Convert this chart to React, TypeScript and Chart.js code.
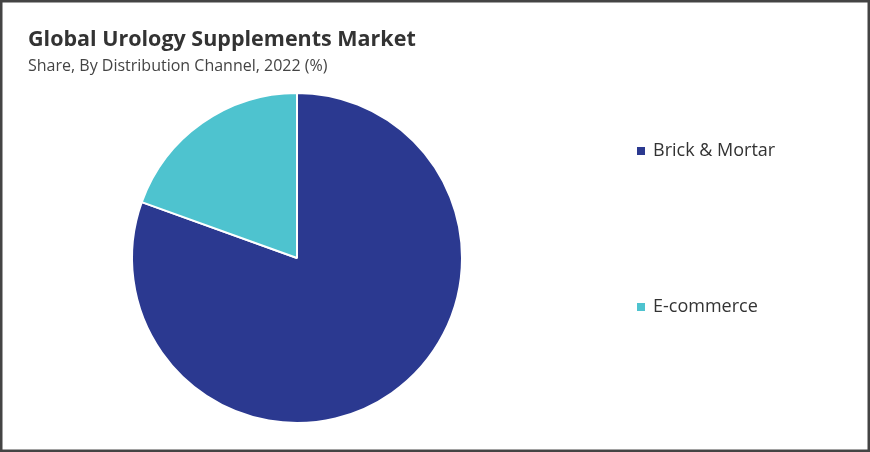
import { useEffect, useRef } from "react";
import { Chart, ChartConfiguration, Plugin, registerables } from "chart.js";

Chart.register(...registerables);

const channels = ["Brick & Mortar", "E-commerce"];
const shares = [80.5, 19.5];
const sliceColors = ["#2b3990", "#4ec3cf"];

const FONT = "'Open Sans', 'DejaVu Sans', sans-serif";

// white page, dark frame and a hand placed legend on the right
const framePlugin: Plugin<"pie"> = {
  id: "frame",
  beforeDraw(chart) {
    const { ctx, width, height } = chart;
    ctx.save();
    ctx.fillStyle = "#ffffff";
    ctx.fillRect(0, 0, width, height);
    ctx.restore();
  },
  afterDraw(chart) {
    const { ctx, width, height } = chart;
    const labels = (chart.data.labels || []) as string[];
    const colors = chart.data.datasets[0].backgroundColor as string[];
    ctx.save();
    ctx.font = `18px ${FONT}`;
    ctx.textBaseline = "middle";
    labels.forEach((label, i) => {
      const y = 151 + i * 156;
      ctx.fillStyle = colors[i];
      ctx.fillRect(637, y - 4, 8, 8);
      ctx.fillStyle = "#333333";
      ctx.fillText(label, 653, y);
    });
    ctx.strokeStyle = "#444444";
    ctx.lineWidth = 5;
    ctx.strokeRect(0, 0, width, height);
    ctx.restore();
  },
};

export default function App() {
  const canvasRef = useRef<HTMLCanvasElement>(null);
  const chartRef = useRef<Chart<"pie"> | null>(null);

  useEffect(() => {
    document.body.style.margin = "0";
    if (!canvasRef.current) return;

    if (chartRef.current) {
      chartRef.current.destroy();
    }

    const config: ChartConfiguration<"pie"> = {
      type: "pie",
      data: {
        labels: channels,
        datasets: [{
          data: shares,
          backgroundColor: sliceColors,
          borderColor: "#ffffff",
          borderWidth: 2,
        }],
      },
      options: {
        responsive: true,
        maintainAspectRatio: false,
        animation: false,
        layout: {
          padding: { left: 28, right: 304, top: 0, bottom: 28 },
        },
        plugins: {
          legend: { display: false },
          tooltip: { enabled: false },
          title: {
            display: true,
            text: "Global Urology Supplements Market",
            align: "start",
            color: "#333333",
            font: { family: FONT, size: 21.5, weight: "bold" },
            padding: { top: 27, bottom: 0 },
          },
          subtitle: {
            display: true,
            text: "Share, By Distribution Channel, 2022 (%)",
            align: "start",
            color: "#444444",
            font: { family: FONT, size: 16 },
            padding: { top: 4, bottom: 16 },
          },
        },
      },
      plugins: [framePlugin],
    };

    chartRef.current = new Chart(canvasRef.current, config);

    return () => {
      if (chartRef.current) {
        chartRef.current.destroy();
        chartRef.current = null;
      }
    };
  }, []);

  return (
    <div style={{ position: "relative", width: 870, height: 452 }}>
      <canvas ref={canvasRef} />
    </div>
  );
}
